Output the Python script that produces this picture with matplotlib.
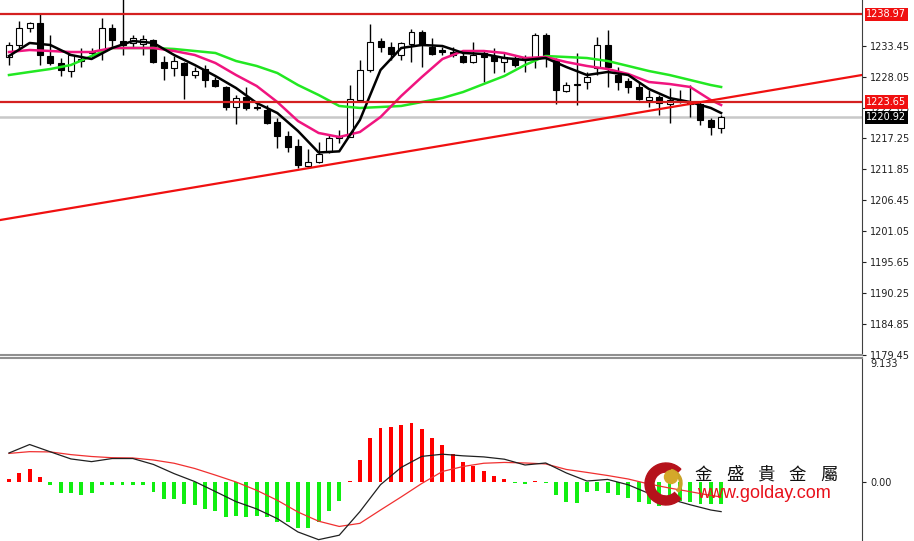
import matplotlib
matplotlib.use('Agg')
import matplotlib.pyplot as plt
from matplotlib.patches import Circle, Wedge
import matplotlib.transforms as mtransforms

# candles (70 bars)
opens = [1231.49, 1233.59, 1236.56, 1237.43, 1231.66, 1230.44, 1229.04, 1230.79, 1232.19, 1232.71,
         1236.56, 1234.28, 1233.94, 1233.76, 1234.46, 1230.61, 1229.57, 1230.44, 1228.34, 1229.39,
         1227.47, 1226.25, 1222.75, 1224.50, 1222.75, 1222.23, 1220.13, 1217.68, 1215.93, 1212.44,
         1213.14, 1214.89, 1217.33, 1217.51, 1223.97, 1229.22, 1234.28, 1233.24, 1231.84, 1233.76,
         1235.86, 1233.24, 1232.71, 1232.36, 1231.66, 1230.61, 1232.19, 1231.66, 1230.61, 1231.31,
         1231.31, 1231.49, 1235.33, 1230.96, 1225.55, 1226.59, 1227.12, 1229.57, 1233.59, 1228.34,
         1227.29, 1226.25, 1223.97, 1224.50, 1223.27, 1223.97, 1223.62, 1223.27, 1220.48, 1219.08]
highs = [1234.11, 1237.78, 1237.61, 1239.00, 1235.33, 1231.31, 1231.84, 1233.06, 1233.06, 1238.30,
         1237.26, 1241.80, 1235.33, 1235.33, 1234.63, 1231.66, 1231.66, 1230.61, 1229.74, 1230.09,
         1227.99, 1226.42, 1224.85, 1226.25, 1223.62, 1223.10, 1220.83, 1218.56, 1217.16, 1215.41,
         1216.63, 1217.86, 1218.73, 1226.59, 1230.96, 1237.26, 1234.81, 1234.11, 1234.11, 1236.38,
         1236.21, 1234.81, 1233.24, 1233.24, 1232.54, 1234.11, 1232.71, 1233.06, 1232.19, 1231.66,
         1231.84, 1235.68, 1235.68, 1231.31, 1227.12, 1232.19, 1228.87, 1234.98, 1236.21, 1229.74,
         1227.82, 1227.12, 1225.72, 1224.85, 1226.07, 1225.72, 1226.59, 1223.62, 1220.83, 1221.35]
lows = [1230.09, 1232.71, 1235.86, 1230.09, 1230.09, 1228.17, 1227.99, 1229.74, 1231.49, 1230.96,
        1233.24, 1231.84, 1233.24, 1231.84, 1230.44, 1227.47, 1228.17, 1224.15, 1227.82, 1226.25,
        1226.25, 1222.23, 1219.78, 1222.23, 1222.23, 1219.78, 1215.58, 1214.89, 1212.09, 1212.26,
        1212.96, 1214.71, 1216.46, 1217.51, 1223.62, 1228.87, 1232.36, 1230.96, 1230.96, 1230.61,
        1229.74, 1231.84, 1231.84, 1231.49, 1230.44, 1230.44, 1227.12, 1228.69, 1228.87, 1229.74,
        1228.87, 1229.57, 1229.74, 1223.27, 1225.37, 1223.10, 1225.90, 1228.34, 1226.25, 1225.72,
        1225.20, 1223.97, 1222.75, 1221.35, 1219.95, 1223.45, 1221.00, 1219.60, 1217.86, 1218.21]
closes = [1233.59, 1236.56, 1237.43, 1231.84, 1230.44, 1229.22, 1231.84, 1231.14, 1232.36, 1236.56,
          1234.46, 1233.59, 1234.81, 1234.63, 1230.61, 1229.57, 1230.79, 1228.34, 1229.04, 1227.47,
          1226.42, 1222.75, 1224.32, 1222.58, 1222.65, 1219.95, 1217.68, 1215.76, 1212.61, 1213.14,
          1214.54, 1217.33, 1217.68, 1224.15, 1229.22, 1234.11, 1233.24, 1232.01, 1233.94, 1235.86,
          1233.59, 1232.01, 1232.36, 1231.84, 1230.61, 1231.84, 1231.49, 1230.79, 1231.49, 1230.09,
          1230.96, 1235.33, 1231.31, 1225.72, 1226.59, 1226.77, 1227.99, 1233.59, 1229.74, 1227.12,
          1226.25, 1224.15, 1224.50, 1223.45, 1223.97, 1223.80, 1223.27, 1220.48, 1219.25, 1220.92]

# moving averages, sampled every other bar
ma_idx = list(range(0, 69, 2)) + [69]
ma_fast = [1231.66, 1233.94, 1233.59, 1231.84, 1231.14, 1233.06, 1234.28, 1233.94, 1231.84, 1230.09,
           1228.17, 1226.07, 1223.45, 1221.70, 1218.56, 1214.80, 1215.00, 1220.48, 1229.22, 1233.06,
           1233.59, 1233.41, 1232.19, 1232.01, 1231.31, 1230.96, 1231.31, 1229.74, 1228.34, 1228.87,
           1228.34, 1225.90, 1224.32, 1223.62, 1222.58, 1221.70]
ma_mid = [1232.36, 1232.71, 1232.54, 1232.36, 1232.36, 1233.06, 1233.06, 1233.06, 1232.54, 1231.84,
          1230.44, 1228.34, 1226.42, 1223.62, 1220.30, 1218.21, 1217.51, 1218.38, 1221.00, 1224.67,
          1227.99, 1231.14, 1232.54, 1232.54, 1232.19, 1231.31, 1231.49, 1230.61, 1229.92, 1229.39,
          1228.52, 1227.12, 1226.77, 1226.25, 1223.97, 1223.10]
ma_slow = [1228.34, 1228.87, 1229.39, 1230.09, 1231.66, 1233.06, 1233.06, 1233.06, 1232.89, 1232.54,
           1232.19, 1230.79, 1229.92, 1228.69, 1226.59, 1224.85, 1222.93, 1222.58, 1222.75, 1222.93,
           1223.62, 1224.32, 1225.37, 1226.77, 1228.17, 1230.09, 1231.66, 1231.49, 1231.31, 1230.79,
           1229.92, 1229.04, 1228.34, 1227.47, 1226.59, 1226.25]

# levels
resistance = 1238.97
support = 1223.65
last_price = 1220.92
trend_idx = [0, 69]
trend_price = [1203.26, 1224.20]
price_ticks = [1179.45, 1184.85, 1190.25, 1195.65, 1201.05, 1206.45,
               1211.85, 1217.25, 1222.65, 1228.05, 1233.45]

# MACD panel
macd_hist = [0.2, 0.65, 1.0, 0.4, -0.2, -0.85, -0.85, -0.95, -0.85, -0.25,
             -0.25, -0.25, -0.25, -0.2, -0.77, -1.26, -1.3, -1.66, -1.7, -2.0,
             -2.15, -2.57, -2.5, -2.57, -2.5, -2.57, -2.95, -3.0, -3.4, -3.4,
             -2.95, -2.15, -1.39, 0.05, 1.63, 3.24, 3.98, 4.1, 4.23, 4.4,
             3.93, 3.29, 2.75, 2.05, 1.46, 1.21, 0.84, 0.47, 0.22, -0.1,
             -0.15, 0.1, -0.1, -0.96, -1.46, -1.53, -0.72, -0.7, -0.84, -0.96,
             -1.21, -1.5, -1.66, -1.76, -1.6, -1.4, -1.46, -1.6, -1.66, -1.6]
macd_main = [2.15, 2.78, 2.24, 1.71, 1.51, 1.74, 1.74, 1.30, 0.62, 0.03,
             -0.71, -1.46, -2.0, -2.72, -3.71, -4.28, -3.95, -2.2, -0.2, 1.08,
             1.9, 2.06, 1.94, 1.86, 1.69, 1.26, 1.41, 0.67, 0.07, 0.19,
             -0.21, -0.85, -1.26, -1.69, -2.08, -2.2]
macd_signal = [2.12, 2.25, 2.23, 2.03, 1.89, 1.8, 1.78, 1.63, 1.39, 1.0,
               0.51, 0.0, -0.62, -1.36, -2.23, -2.91, -3.3, -3.07, -2.08, -1.11,
               -0.11, 0.78, 1.15, 1.39, 1.45, 1.41, 1.34, 0.93, 0.71, 0.48,
               0.22, -0.15, -0.45, -0.72, -1.0, -1.11]
macd_top = 9.133

W, H = 914, 541
XLIM = (-0.87, 82.65)


def style_axis(ax):
    ax.set_xlim(*XLIM)
    ax.set_xticks([])
    ax.spines['left'].set_visible(False)
    ax.spines['top'].set_visible(False)
    ax.spines['right'].set_color('#404040')
    ax.yaxis.tick_right()
    ax.tick_params(axis='y', direction='out', length=3, width=0.8, pad=3,
                   labelsize=7, colors='#202020')


def price_label(ax, y, text, bg):
    trans = mtransforms.blended_transform_factory(ax.transAxes, ax.transData)
    ax.text(1.005, y, text, transform=trans, fontsize=7, color='white',
            va='center', ha='left', clip_on=False, zorder=6,
            bbox=dict(facecolor=bg, edgecolor='none', pad=1.2))


def draw_price(ax):
    idx = list(range(len(opens)))
    ax.vlines(idx, lows, highs, color='black', lw=1, zorder=2)
    for i in idx:
        o, c = opens[i], closes[i]
        up = c >= o
        h = c - o if abs(c - o) > 0.05 else 0.05
        ax.bar(i, h, bottom=o, width=0.58, color='white' if up else 'black',
               edgecolor='black', lw=0.8, zorder=3)

    ax.plot(ma_idx, ma_slow, color='#22e822', lw=1.8, zorder=4)
    ax.plot(ma_idx, ma_mid, color='#f0147f', lw=1.8, zorder=4)
    ax.plot(ma_idx, ma_fast, color='black', lw=1.8, zorder=4)

    ax.axhline(last_price, color='#c8c8c8', lw=1.8, zorder=1)
    ax.axhline(resistance, color='#d42020', lw=1.6, zorder=5)
    ax.axhline(support, color='#d42020', lw=1.6, zorder=5)
    ax.axline((trend_idx[0], trend_price[0]), (trend_idx[1], trend_price[1]),
              color='#f01010', lw=1.6, zorder=5)

    ax.set_ylim(1179.41, 1241.45)
    ax.set_yticks(price_ticks)
    ax.set_yticklabels(['%.2f' % p for p in price_ticks])
    style_axis(ax)
    ax.spines['bottom'].set_color('#909090')
    ax.spines['bottom'].set_linewidth(1.5)

    price_label(ax, resistance, '%.2f' % resistance, '#f01010')
    price_label(ax, support, '%.2f' % support, '#f01010')
    price_label(ax, last_price, '%.2f' % last_price, 'black')


def draw_macd(ax):
    idx = list(range(len(macd_hist)))
    colors = ['#ff0000' if v > 0 else '#11ee11' for v in macd_hist]
    ax.bar(idx, macd_hist, width=0.38, color=colors, zorder=2)
    ax.plot(ma_idx, macd_signal, color='#f03030', lw=0.9, zorder=3)
    ax.plot(ma_idx, macd_main, color='#202020', lw=0.9, zorder=3)

    ax.set_ylim(-4.38, 9.2)
    ax.set_yticks([0])
    ax.set_yticklabels(['0.00'])
    style_axis(ax)
    ax.spines['bottom'].set_visible(False)
    ax.spines['top'].set_visible(True)
    ax.spines['top'].set_color('#909090')
    ax.spines['top'].set_linewidth(1.5)
    ax.text(1.01, 0.965, '%.3f' % macd_top, transform=ax.transAxes,
            fontsize=7, color='#202020', va='center', ha='left')


def draw_logo(fig):
    ov = fig.add_axes([0, 0, 1, 1], zorder=10)
    ov.set_xlim(0, W)
    ov.set_ylim(H, 0)
    ov.axis('off')
    ov.patch.set_alpha(0)
    ov.add_patch(Wedge((666, 484), 21, 45, 315, width=9, color='#b5121b'))
    ov.add_patch(Wedge((668, 483), 14, -75, 40, width=2.5, color='#c9a227'))
    ov.add_patch(Circle((671, 477), 6.5, color='#d4a82a'))
    for k, ch in enumerate('金盛貴金屬'):
        ov.text(703 + 31.5 * k, 475, ch, fontsize=12.5, color='#111111',
                ha='center', va='center', family=['Noto Sans CJK TC', 'DejaVu Sans'])
    ov.text(764, 494, 'www.golday.com', fontsize=13, color='#e8101a',
            ha='center', va='center', family='Liberation Sans')


def main():
    fig = plt.figure(figsize=(W / 100, H / 100), dpi=100)
    right = 862 / W
    ax1 = fig.add_axes([0, 1 - 355 / H, right, 355 / H])
    ax2 = fig.add_axes([0, 0, right, 1 - 358 / H])
    draw_price(ax1)
    draw_macd(ax2)
    draw_logo(fig)
    fig.savefig('out.png', dpi=100)


if __name__ == '__main__':
    main()
